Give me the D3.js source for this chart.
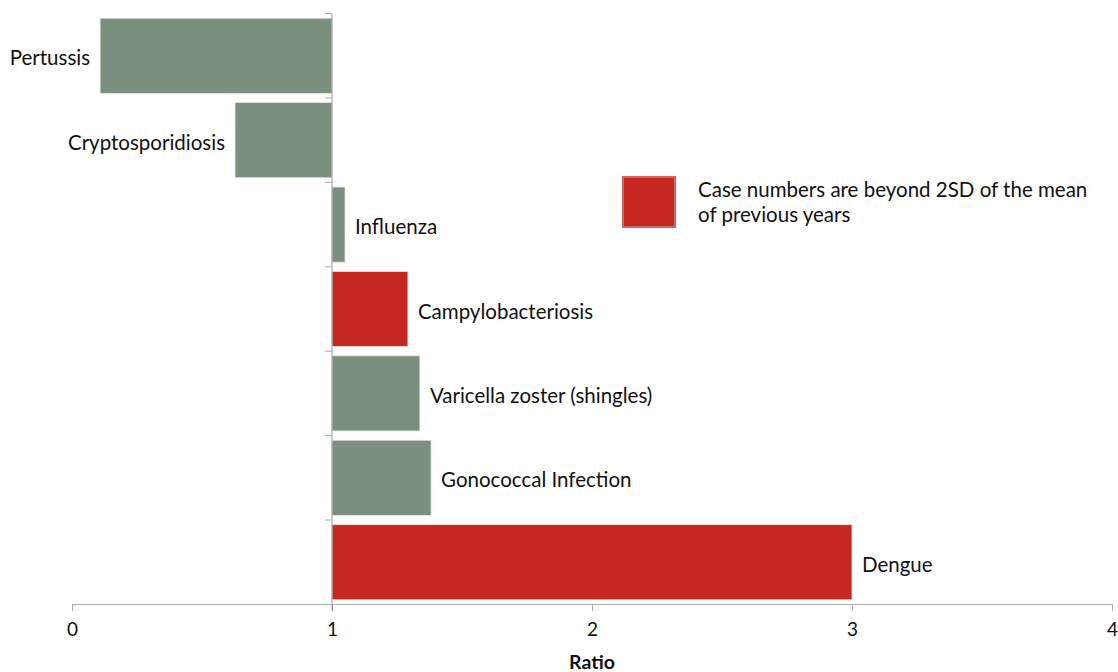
<!DOCTYPE html>
<html>
<head>
<meta charset="utf-8">
<script src="https://cdn.jsdelivr.net/npm/d3@7"></script>
<style>
  body { margin: 0; background: #fff; }
  text { font-family: Lato, "Open Sans", sans-serif; fill: #111; }
</style>
</head>
<body>
<div id="chart"></div>
<script>
var diseases = ['Pertussis', 'Cryptosporidiosis', 'Influenza', 'Campylobacteriosis',
  'Varicella zoster (shingles)', 'Gonococcal Infection', 'Dengue'];
var ratios = [0.108, 0.627, 1.05, 1.292, 1.338, 1.381, 3.0];
var beyond2SD = [false, false, false, true, false, false, true];
var xTicks = [0, 1, 2, 3, 4];
var legendLines = ['Case numbers are beyond 2SD of the mean', 'of previous years'];

var width = 1118, height = 672;
var green = '#7a8f7e', red = '#c42821';

var data = diseases.map(function(d, i) {
  return { name: d, value: ratios[i], flag: beyond2SD[i] };
});

var svg = d3.select('#chart').append('svg')
    .attr('width', width)
    .attr('height', height);

var x = d3.scaleLinear().domain([0, 4]).range([72, 1112]);
var y = d3.scaleBand().domain(diseases).range([14, 604])
    .paddingInner(0.11).paddingOuter(0.05);

// bars grow from ratio = 1
svg.append('g')
  .selectAll('rect')
  .data(data)
  .enter().append('rect')
  .attr('x', function(d) { return x(Math.min(1, d.value)); })
  .attr('y', function(d) { return y(d.name); })
  .attr('width', function(d) { return Math.abs(x(d.value) - x(1)); })
  .attr('height', y.bandwidth())
  .attr('fill', function(d) { return d.flag ? red : green; })
  .attr('stroke', '#e6e6e6')
  .attr('stroke-width', 0.8);

// x axis
var xAxis = svg.append('g')
  .attr('transform', 'translate(0,604)')
  .call(d3.axisBottom(x).tickValues(xTicks).tickSize(7).tickPadding(12).tickFormat(d3.format('d')));
xAxis.select('.domain').attr('stroke', '#aaa');
xAxis.selectAll('.tick line').attr('stroke', '#aaa');
xAxis.selectAll('text').style('font-size', '19px').style('fill', '#111');

// y axis at ratio = 1, ticks on band boundaries
var yAxisG = svg.append('g');
yAxisG.append('line')
  .attr('x1', x(1)).attr('x2', x(1))
  .attr('y1', y.range()[0]).attr('y2', y.range()[1] + 7)
  .attr('stroke', '#999');
var bounds = diseases.map(function(d) { return y(d) - y.step() * y.paddingInner() / 2; });
yAxisG.selectAll('line.tk')
  .data(bounds)
  .enter().append('line')
  .attr('class', 'tk')
  .attr('x1', x(1) - 7).attr('x2', x(1))
  .attr('y1', function(d) { return d; }).attr('y2', function(d) { return d; })
  .attr('stroke', '#aaa');

// labels
svg.append('g')
  .selectAll('text')
  .data(data)
  .enter().append('text')
  .attr('x', function(d) { return d.value < 1 ? x(d.value) - 10 : x(d.value) + 10; })
  .attr('y', function(d) { return y(d.name) + y.bandwidth() / 2 + 2.5; })
  .attr('dy', '0.35em')
  .attr('text-anchor', function(d) { return d.value < 1 ? 'end' : 'start'; })
  .style('font-size', '20.5px')
  .text(function(d) { return d.name; });

// axis title
svg.append('text')
  .attr('x', x(2)).attr('y', 669)
  .attr('text-anchor', 'middle')
  .style('font-size', '19.5px')
  .style('font-weight', 'bold')
  .text('Ratio');

// legend
var legend = svg.append('g').attr('transform', 'translate(623,177)');
legend.append('rect')
  .attr('width', 52).attr('height', 50)
  .attr('fill', red)
  .attr('stroke', '#d26462')
  .attr('stroke-width', 2);
legend.selectAll('text')
  .data(legendLines)
  .enter().append('text')
  .attr('x', 75)
  .attr('y', function(d, i) { return 20 + i * 25; })
  .style('font-size', '20.5px')
  .text(function(d) { return d; });
</script>
</body>
</html>
